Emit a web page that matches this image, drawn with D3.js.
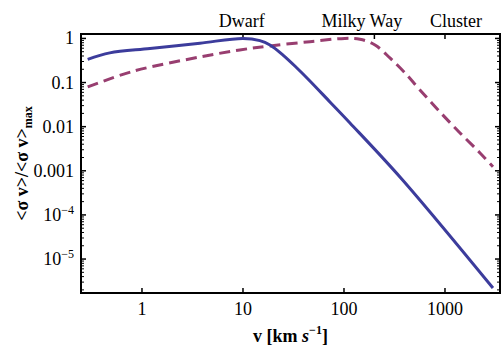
<!DOCTYPE html>
<html><head><meta charset="utf-8">
<script src="https://cdn.jsdelivr.net/npm/d3@7"></script>
<style>body{margin:0;background:#fff}</style>
</head><body><svg id="c" width="502" height="348"></svg>
<script>
// Data
const solidV   = [0.29, 0.48, 1.2, 3.75, 10, 14.7, 18.5, 24.9, 34.2, 46, 72.6, 114.6, 373, 2985];
const solidVal = [0.334, 0.47, 0.59, 0.78, 1.0, 0.89, 0.71, 0.42, 0.214, 0.1087, 0.0363, 0.01213, 6.52e-4, 2.2e-6];
const dashedV   = [0.29, 0.81, 3.75, 9.3, 18.5, 46, 102, 144, 203, 285, 402, 565, 891, 1409, 2223, 2985];
const dashedVal = [0.0794, 0.179, 0.38, 0.548, 0.676, 0.846, 1.0, 0.96, 0.71, 0.361, 0.165, 0.068, 0.0216, 0.0072, 0.00254, 0.00123];
const xTicks = [1, 10, 100, 1000];
const xTickLabels = ["1", "10", "100", "1000"];
const yTicks = [1, 0.1, 0.01, 0.001, 1e-4, 1e-5];
const yTickBase = ["1", "0.1", "0.01", "0.001", "10", "10"];
const yTickExp = ["", "", "", "", "\u22124", "\u22125"];
const topTicks = [10, 200, 1000];
const topLabels = ["Dwarf", "Milky Way", "Cluster"];
const topLabelAt = [9.7, 150, 1285];

const svg = d3.select("#c");
const L = 81, R = 500, T = 34, B = 293;
const x = d3.scaleLog().domain([0.249, 3505]).range([L, R]);
const y = d3.scaleLog().domain([1.7e-6, 1.26]).range([B, T]);
const font = "'Liberation Serif','Times New Roman',serif";

// minor ticks
const minors = [];
for (let e = -6; e <= 0; e++) for (let m = 2; m <= 9; m++) {
  const v = m * Math.pow(10, e);
  if (v > 1.7e-6 && v < 1.26) minors.push(v);
}
const g = svg.append("g");
[[L, 1], [R, -1]].forEach(([xx, dir]) => {
  g.selectAll(null).data(minors).enter().append("line")
    .attr("x1", xx).attr("x2", xx + dir * 3)
    .attr("y1", d => y(d)).attr("y2", d => y(d))
    .attr("stroke", "#000").attr("stroke-width", 1);
  g.selectAll(null).data(yTicks).enter().append("line")
    .attr("x1", xx).attr("x2", xx + dir * 5)
    .attr("y1", d => y(d)).attr("y2", d => y(d))
    .attr("stroke", "#000").attr("stroke-width", 1.5);
});
g.selectAll(null).data(xTicks).enter().append("line")
  .attr("x1", d => x(d)).attr("x2", d => x(d))
  .attr("y1", B).attr("y2", B - 5).attr("stroke", "#000").attr("stroke-width", 1.5);
g.selectAll(null).data(topTicks).enter().append("line")
  .attr("x1", d => x(d)).attr("x2", d => x(d))
  .attr("y1", T).attr("y2", T + 5).attr("stroke", "#000").attr("stroke-width", 1.5);

// curves
const line = d3.line().x(d => x(d[0])).y(d => y(d[1])).curve(d3.curveCatmullRom.alpha(0.5));
svg.append("path").datum(dashedV.map((v, i) => [v, dashedVal[i]]))
  .attr("d", line).attr("fill", "none").attr("stroke", "#983e70")
  .attr("stroke-width", 3).attr("stroke-dasharray", "11,6");
svg.append("path").datum(solidV.map((v, i) => [v, solidVal[i]]))
  .attr("d", line).attr("fill", "none").attr("stroke", "#3c3c9c")
  .attr("stroke-width", 3);

// frame
svg.append("path").attr("d", `M${L},${T}H${R}V${B}H${L}Z`)
  .attr("fill", "none").attr("stroke", "#000").attr("stroke-width", 2);

// tick labels
svg.selectAll(null).data(xTicks).enter().append("text")
  .attr("x", d => x(d)).attr("y", 315).attr("text-anchor", "middle")
  .attr("font-family", font).attr("font-size", 18)
  .text((d, i) => xTickLabels[i]);
const yl = svg.selectAll(null).data(yTicks).enter().append("text")
  .attr("x", 74).attr("y", d => y(d) + 6).attr("text-anchor", "end")
  .attr("font-family", font).attr("font-size", 18);
yl.append("tspan").text((d, i) => yTickBase[i]);
yl.append("tspan").attr("font-size", 12).attr("dy", -7).text((d, i) => yTickExp[i]);

svg.selectAll(null).data(topLabels).enter().append("text")
  .attr("x", (d, i) => x(topLabelAt[i])).attr("y", 27).attr("text-anchor", "middle")
  .attr("font-family", font).attr("font-size", 18).text(d => d);

// axis titles
const xt = svg.append("text").attr("x", (L + R) / 2).attr("y", 342).attr("text-anchor", "middle")
  .attr("font-family", font).attr("font-size", 18).attr("font-weight", "bold");
xt.append("tspan").text("v [km ");
xt.append("tspan").attr("font-style", "italic").text("s");
xt.append("tspan").attr("font-size", 12).attr("dy", -8).text("\u22121");
xt.append("tspan").attr("dy", 8).text("]");

const yt = svg.append("text").attr("transform", `translate(28,${(T + B) / 2}) rotate(-90)`)
  .attr("text-anchor", "middle").attr("font-family", font).attr("font-size", 18).attr("font-weight", "bold");
yt.append("tspan").text("<\u03c3 v>/<\u03c3 v>");
yt.append("tspan").attr("font-size", 12).attr("dy", 4).text("max");
</script></body></html>
